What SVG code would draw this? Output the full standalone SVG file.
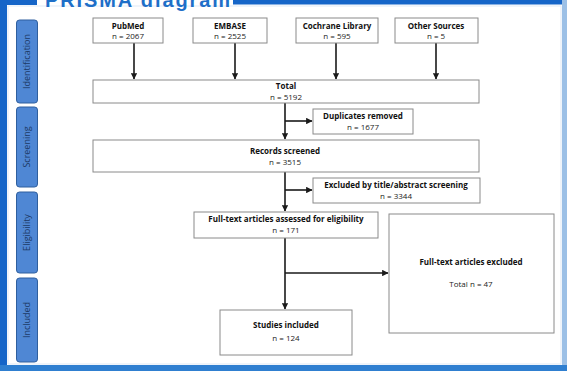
<svg xmlns="http://www.w3.org/2000/svg" width="567" height="371" viewBox="0 0 567 371">
<defs>
<style>
.box{fill:#fff;stroke:#8a8a8a;stroke-width:1}
.tab{fill:#4f87d4;stroke:#2f5f9e;stroke-width:1}
.lbl{font-family:"Open Sans","Liberation Sans",sans-serif;font-size:8px;fill:#222;text-anchor:middle}
.b{font-weight:bold;fill:#111}
.tabt{font-family:"Open Sans","Liberation Sans",sans-serif;font-size:9px;fill:#1d3a66;text-anchor:middle}
.con{stroke:#1a1a1a;stroke-width:1.6;fill:none}
</style>
<marker id="ah" viewBox="0 0 6 6" refX="5.5" refY="3" markerWidth="4" markerHeight="4" orient="auto">
<path d="M0,0 L6,3 L0,6 z" fill="#1a1a1a"/>
</marker>
</defs>
<rect x="0" y="0" width="567" height="371" fill="#fff"/>
<rect x="8" y="6" width="553" height="358" fill="none" stroke="#dfe9f5" stroke-width="1"/>
<g id="frame">
<rect x="0" y="0" width="7" height="371" fill="#1565c8"/>
<rect x="0" y="0" width="37" height="5" fill="#1565c8"/>
<rect x="233" y="0" width="334" height="4.5" fill="#1565c8"/>
<rect x="562" y="0" width="5" height="371" fill="#9cc0e6"/>
<rect x="0" y="365" width="567" height="6" fill="#2f7fd0"/>
<text x="45" y="7" font-family="Liberation Sans,Arial,sans-serif" font-weight="bold" font-size="20" fill="#1e6fc8" textLength="185">PRISMA diagram</text>
</g>
<g id="tab-identification"><rect class="tab" x="16.5" y="20" width="21" height="83" rx="3"/><text class="tabt" transform="translate(30,61.5) rotate(-90)">Identification</text></g>
<g id="tab-screening"><rect class="tab" x="16.5" y="107" width="21" height="80" rx="3"/><text class="tabt" transform="translate(30,147) rotate(-90)">Screening</text></g>
<g id="tab-eligibility"><rect class="tab" x="16.5" y="192" width="21" height="81" rx="3"/><text class="tabt" transform="translate(30,232.5) rotate(-90)">Eligibility</text></g>
<g id="tab-included"><rect class="tab" x="16.5" y="278" width="21" height="84" rx="3"/><text class="tabt" transform="translate(30,320) rotate(-90)">Included</text></g>

<g id="connectors">
<line class="con" x1="134" y1="43" x2="134" y2="79" marker-end="url(#ah)"/>
<line class="con" x1="235" y1="43" x2="235" y2="79" marker-end="url(#ah)"/>
<line class="con" x1="336" y1="43" x2="336" y2="79" marker-end="url(#ah)"/>
<line class="con" x1="436" y1="43" x2="436" y2="79" marker-end="url(#ah)"/>
<line class="con" x1="285" y1="103" x2="285" y2="139" marker-end="url(#ah)"/>
<line class="con" x1="285" y1="121" x2="312" y2="121" marker-end="url(#ah)"/>
<line class="con" x1="285" y1="172" x2="285" y2="211" marker-end="url(#ah)"/>
<line class="con" x1="285" y1="190" x2="312" y2="190" marker-end="url(#ah)"/>
<line class="con" x1="285" y1="238" x2="285" y2="309" marker-end="url(#ah)"/>
<line class="con" x1="285" y1="273" x2="388" y2="273" marker-end="url(#ah)"/>
</g>

<g id="pubmed"><rect class="box" x="93" y="18" width="70" height="25"/><text class="lbl b" x="128" y="28.5">PubMed</text><text class="lbl" x="128" y="39">n = 2067</text></g>
<g id="embase"><rect class="box" x="193" y="18" width="74" height="25"/><text class="lbl b" x="230" y="28.5">EMBASE</text><text class="lbl" x="230" y="39">n = 2525</text></g>
<g id="cochrane"><rect class="box" x="296" y="18" width="82" height="25"/><text class="lbl b" x="337" y="28.5">Cochrane Library</text><text class="lbl" x="337" y="39">n = 595</text></g>
<g id="other"><rect class="box" x="395" y="18" width="83" height="25"/><text class="lbl b" x="436" y="28.5">Other Sources</text><text class="lbl" x="436" y="39">n = 5</text></g>
<g id="total"><rect class="box" x="93" y="80" width="386" height="23"/><text class="lbl b" x="286" y="89">Total</text><text class="lbl" x="286" y="99.5">n = 5192</text></g>
<g id="duplicates"><rect class="box" x="313" y="109" width="100" height="25"/><text class="lbl b" x="363" y="119">Duplicates removed</text><text class="lbl" x="363" y="130">n = 1677</text></g>
<g id="screened"><rect class="box" x="93" y="140" width="386" height="32"/><text class="lbl b" x="285" y="154">Records screened</text><text class="lbl" x="285" y="165">n = 3515</text></g>
<g id="excluded-title"><rect class="box" x="313" y="178" width="167" height="25"/><text class="lbl b" x="396" y="188">Excluded by title/abstract screening</text><text class="lbl" x="396" y="199">n = 3344</text></g>
<g id="fulltext"><rect class="box" x="194" y="212" width="184" height="26"/><text class="lbl b" x="286" y="222">Full-text articles assessed for eligibility</text><text class="lbl" x="286" y="233">n = 171</text></g>
<g id="fulltext-excluded"><rect class="box" x="389" y="214" width="165" height="119"/><text class="lbl b" x="471" y="265">Full-text articles excluded</text><text class="lbl" x="471" y="287">Total n = 47</text></g>
<g id="included"><rect class="box" x="220" y="310" width="132" height="45"/><text class="lbl b" x="286" y="328">Studies included</text><text class="lbl" x="286" y="341">n = 124</text></g>
</svg>
